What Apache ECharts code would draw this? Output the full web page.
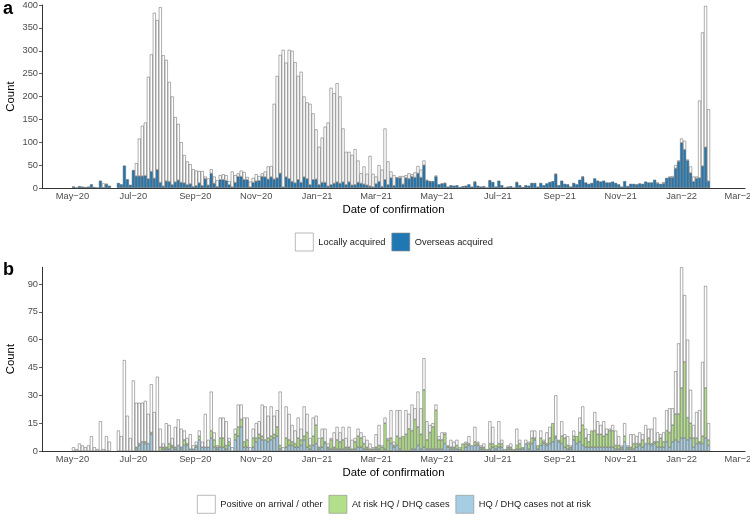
<!DOCTYPE html>
<html>
<head>
<meta charset="utf-8">
<script src="https://cdn.jsdelivr.net/npm/echarts@6.0.0/dist/echarts.min.js"></script>
<style>
  html, body { margin: 0; padding: 0; background: #fff; }
  #chart { width: 750px; height: 525px; }
</style>
</head>
<body>
<div id="chart"></div>
<script>
// counts per 3-day bin, first bin starts 1 May 2020
const binStart = '2020-05-01'
const binDays = 3
const axisStart = '2020-04-01'
const axisEnd = '2022-03-05'

// panel a: locally acquired (stacked on top of overseas)
const local = [
  1, 0, 0, 0, 0, 0, 0, 0, 0, 0,
  9, 1, 0, 0, 0, 0, 0, 0, 0, 0,
  1, 28, 82, 110, 116, 223, 256, 362, 327, 383,
  286, 265, 218, 193, 142, 123, 88, 61, 51, 43,
  38, 33, 26, 32, 5, 15, 9, 15, 14, 10,
  12, 12, 8, 34, 16, 7, 13, 17, 6, 12,
  10, 15, 10, 7, 12, 28, 24, 165, 223, 259,
  300, 250, 282, 286, 264, 227, 242, 176, 167, 177,
  145, 109, 83, 98, 122, 139, 212, 197, 216, 190,
  117, 72, 66, 66, 78, 48, 22, 39, 25, 66,
  29, 16, 36, 37, 112, 51, 14, 23, 1, 4,
  18, 6, 12, 5, 11, 16, 17, 10, 2, 1,
  0, 2, 0, 0, 1, 0, 0, 0, 0, 0,
  0, 0, 0, 0, 1, 0, 0, 0, 0, 1,
  0, 0, 0, 0, 0, 0, 0, 0, 1, 0,
  0, 0, 0, 0, 0, 0, 0, 0, 0, 0,
  0, 1, 0, 0, 0, 0, 0, 0, 0, 0,
  1, 0, 0, 0, 0, 0, 0, 0, 0, 0,
  0, 0, 0, 0, 0, 1, 0, 0, 0, 0,
  0, 0, 0, 0, 0, 2, 0, 3, 0, 2,
  3, 7, 2, 9, 19, 2, 14, 11, 4, 169,
  292, 309, 157
]

// panel b: overseas acquired, by quarantine status
const onArrival = [
  2, 1, 4, 3, 2, 3, 8, 2, 1, 16,
  1, 8, 5, 0, 0, 11, 8, 49, 19, 7,
  38, 24, 22, 21, 22, 16, 26, 21, 40, 10,
  2, 13, 10, 4, 11, 14, 10, 5, 3, 8,
  2, 2, 3, 3, 18, 4, 21, 4, 1, 11,
  11, 13, 2, 2, 3, 12, 8, 13, 12, 2,
  5, 8, 7, 17, 18, 12, 16, 10, 9, 29,
  2, 17, 14, 9, 7, 11, 6, 16, 10, 4,
  10, 5, 5, 5, 7, 2, 1, 8, 7, 5,
  7, 5, 11, 5, 2, 4, 3, 4, 4, 3,
  1, 7, 11, 1, 3, 1, 15, 2, 14, 15,
  0, 13, 8, 14, 6, 19, 14, 17, 10, 4,
  2, 3, 2, 4, 1, 0, 4, 3, 3, 1,
  0, 1, 4, 0, 8, 1, 1, 2, 0, 12,
  9, 0, 12, 2, 0, 1, 2, 0, 9, 2,
  0, 2, 1, 4, 4, 0, 4, 1, 6, 6,
  0, 22, 0, 8, 2, 5, 1, 3, 0, 8,
  10, 5, 4, 0, 10, 7, 5, 8, 3, 1,
  3, 8, 5, 1, 7, 1, 7, 5, 4, 6,
  3, 10, 5, 8, 13, 5, 2, 5, 11, 13,
  9, 23, 38, 65, 36, 42, 18, 7, 14, 17,
  40, 55, 9
]

const atRisk = [
  0, 0, 0, 0, 0, 0, 0, 0, 0, 0,
  0, 0, 0, 0, 0, 0, 0, 0, 0, 0,
  0, 1, 1, 0, 1, 0, 1, 0, 0, 2,
  1, 1, 3, 1, 1, 0, 1, 3, 1, 0,
  0, 1, 2, 0, 0, 0, 4, 4, 1, 5,
  5, 2, 2, 0, 3, 5, 4, 3, 4, 0,
  5, 2, 2, 2, 0, 2, 2, 2, 5, 2,
  0, 5, 3, 2, 2, 5, 3, 2, 8, 2,
  5, 10, 1, 5, 1, 1, 5, 1, 5, 4,
  5, 1, 1, 1, 4, 6, 5, 3, 1, 1,
  1, 1, 2, 2, 14, 6, 3, 1, 5, 6,
  8, 9, 12, 10, 16, 10, 8, 31, 5, 9,
  12, 21, 5, 5, 5, 1, 1, 1, 2, 1,
  4, 2, 1, 0, 2, 1, 1, 1, 1, 3,
  2, 2, 2, 2, 1, 1, 1, 1, 2, 3,
  1, 0, 3, 3, 1, 2, 4, 1, 1, 3,
  10, 1, 1, 4, 5, 2, 1, 2, 4, 5,
  11, 5, 3, 9, 9, 7, 7, 6, 7, 9,
  9, 2, 2, 1, 3, 1, 1, 3, 2, 1,
  4, 0, 3, 1, 1, 3, 5, 3, 6, 8,
  9, 14, 15, 27, 41, 12, 8, 5, 3, 1,
  4, 27, 3
]

const notAtRisk = [
  0, 0, 0, 0, 0, 0, 0, 0, 0, 0,
  0, 0, 0, 0, 0, 0, 0, 0, 0, 0,
  0, 1, 3, 5, 4, 4, 9, 0, 0, 0,
  1, 1, 1, 2, 1, 3, 1, 3, 3, 1,
  1, 2, 6, 2, 2, 2, 7, 2, 1, 2,
  2, 1, 3, 0, 6, 8, 13, 2, 2, 0,
  2, 5, 7, 6, 6, 5, 6, 7, 8, 1,
  0, 2, 3, 3, 2, 2, 3, 6, 2, 1,
  3, 4, 1, 2, 4, 1, 1, 1, 1, 1,
  1, 1, 1, 0, 1, 2, 2, 1, 1, 0,
  0, 1, 1, 0, 1, 0, 4, 2, 3, 1,
  0, 0, 0, 1, 1, 3, 1, 2, 1, 1,
  1, 1, 1, 1, 4, 2, 1, 1, 1, 0,
  0, 2, 3, 3, 3, 3, 1, 1, 0, 1,
  2, 1, 2, 2, 0, 1, 1, 0, 1, 1,
  1, 4, 1, 4, 6, 1, 3, 4, 3, 4,
  5, 7, 5, 4, 2, 1, 1, 6, 4, 5,
  3, 2, 2, 2, 2, 2, 2, 2, 2, 2,
  2, 1, 1, 1, 5, 1, 1, 1, 2, 3,
  2, 4, 4, 3, 4, 2, 2, 2, 5, 2,
  5, 6, 5, 7, 7, 6, 7, 2, 4, 4,
  4, 7, 3
]

const yTicksA = [0, 50, 100, 150, 200, 250, 300, 350, 400]
const yTicksB = [0, 15, 30, 45, 60, 75, 90]
const monthNames = ['Jan', 'Feb', 'Mar', 'Apr', 'May', 'Jun', 'Jul', 'Aug', 'Sep', 'Oct', 'Nov', 'Dec']

const font = '"Liberation Sans", Arial, sans-serif'
const edge = '#5e5e5e'

function dayList (from, to) {
  const out = []
  const d = new Date(from + 'T00:00:00Z')
  const end = new Date(to + 'T00:00:00Z')
  while (d <= end) {
    out.push(d.toISOString().slice(0, 10))
    d.setUTCDate(d.getUTCDate() + 1)
  }
  return out
}

const days = dayList(axisStart, axisEnd)
const firstIdx = days.indexOf(binStart)

// put each bin on its middle day, empty bins draw nothing
function spread (values) {
  const arr = new Array(days.length).fill(null)
  values.forEach((v, i) => {
    if (v > 0) arr[firstIdx + binDays * i + 1] = v
  })
  return arr
}

const overseas = notAtRisk.map((v, i) => v + atRisk[i] + onArrival[i])

function isMonthTick (idx) {
  const d = days[idx]
  const m = +d.slice(5, 7)
  return d.slice(8) === '01' && m % 2 === 1
}

function monthLabel (value) {
  const m = +value.slice(5, 7)
  return monthNames[m - 1] + '\u2212' + value.slice(2, 4)
}

function xAxis (gridIndex) {
  return {
    type: 'category',
    gridIndex: gridIndex,
    data: days,
    boundaryGap: true,
    axisLine: {lineStyle: {color: '#000', width: 0.8}},
    axisTick: {alignWithLabel: true, length: 3, interval: (i) => isMonthTick(i), lineStyle: {color: '#333', width: 0.8}},
    axisLabel: {interval: (i) => isMonthTick(i), formatter: monthLabel, fontSize: 9.3, color: '#4d4d4d', margin: 4, fontFamily: font},
    splitLine: {show: false},
    name: 'Date of confirmation',
    nameLocation: 'middle',
    nameGap: 16,
    nameMoveOverlap: false,
    nameTextStyle: {fontSize: 11.4, color: '#000', fontFamily: font}
  }
}

function yAxis (gridIndex, max, step, ticks) {
  return {
    type: 'value',
    gridIndex: gridIndex,
    min: 0,
    max: max,
    interval: step,
    axisLine: {show: true, lineStyle: {color: '#000', width: 0.8}},
    axisTick: {show: true, length: 3, customValues: ticks, lineStyle: {color: '#333', width: 0.8}},
    axisLabel: {
      customValues: ticks,
      formatter: (v) => (v % step === 0 ? String(v) : ''),
      fontSize: 9.3, color: '#4d4d4d', margin: 4, fontFamily: font
    },
    splitLine: {show: false},
    name: 'Count',
    nameLocation: 'middle',
    nameRotate: 90,
    nameGap: 26,
    nameMoveOverlap: false,
    nameTextStyle: {fontSize: 11.4, color: '#000', fontFamily: font}
  }
}

function bars (name, values, color, axisIdx, stack) {
  return {
    type: 'bar',
    name: name,
    xAxisIndex: axisIdx,
    yAxisIndex: axisIdx,
    stack: stack,
    barWidth: 3,
    data: spread(values),
    itemStyle: {color: color, borderColor: edge, borderWidth: 0.5},
    emphasis: {disabled: true}
  }
}

const chart = echarts.init(document.getElementById('chart'), null, {renderer: 'canvas'})
const legendText = {fontSize: 9.3, color: '#1a1a1a', fontFamily: font}

const option = {
  animation: false,
  backgroundColor: '#fff',
  grid: [
    {left: 42, right: 5, top: 5, bottom: 337, containLabel: false, outerBoundsMode: 'none'},
    {left: 42, right: 5, top: 267.3, bottom: 74, containLabel: false, outerBoundsMode: 'none'}
  ],
  xAxis: [xAxis(0), xAxis(1)],
  yAxis: [yAxis(0, 400, 50, yTicksA), yAxis(1, 99, 15, yTicksB)],
  legend: [
    {
      left: 295, top: 232.7, padding: 0, itemWidth: 18, itemHeight: 18, itemGap: 6,
      selectedMode: false, icon: 'rect', textStyle: legendText,
      itemStyle: {borderColor: '#8c8c8c', borderWidth: 0.6},
      data: ['Locally acquired', 'Overseas acquired']
    },
    {
      left: 197, top: 495, padding: 0, itemWidth: 18, itemHeight: 18, itemGap: 6,
      selectedMode: false, icon: 'rect', textStyle: legendText,
      itemStyle: {borderColor: '#8c8c8c', borderWidth: 0.6},
      data: ['Positive on arrival / other', 'At risk HQ / DHQ cases', 'HQ / DHQ cases not at risk']
    }
  ],
  graphic: [
    {type: 'text', left: 3, top: 0, style: {text: 'a', font: 'bold 18px ' + font, fill: '#000'}},
    {type: 'text', left: 3, top: 261, style: {text: 'b', font: 'bold 18px ' + font, fill: '#000'}}
  ],
  series: [
    bars('Overseas acquired', overseas, '#1f78b4', 0, 'a'),
    bars('Locally acquired', local, '#ffffff', 0, 'a'),
    bars('HQ / DHQ cases not at risk', notAtRisk, '#a6cee3', 1, 'b'),
    bars('At risk HQ / DHQ cases', atRisk, '#b2df8a', 1, 'b'),
    bars('Positive on arrival / other', onArrival, '#ffffff', 1, 'b')
  ]
}

chart.setOption(option)
</script>
</body>
</html>
